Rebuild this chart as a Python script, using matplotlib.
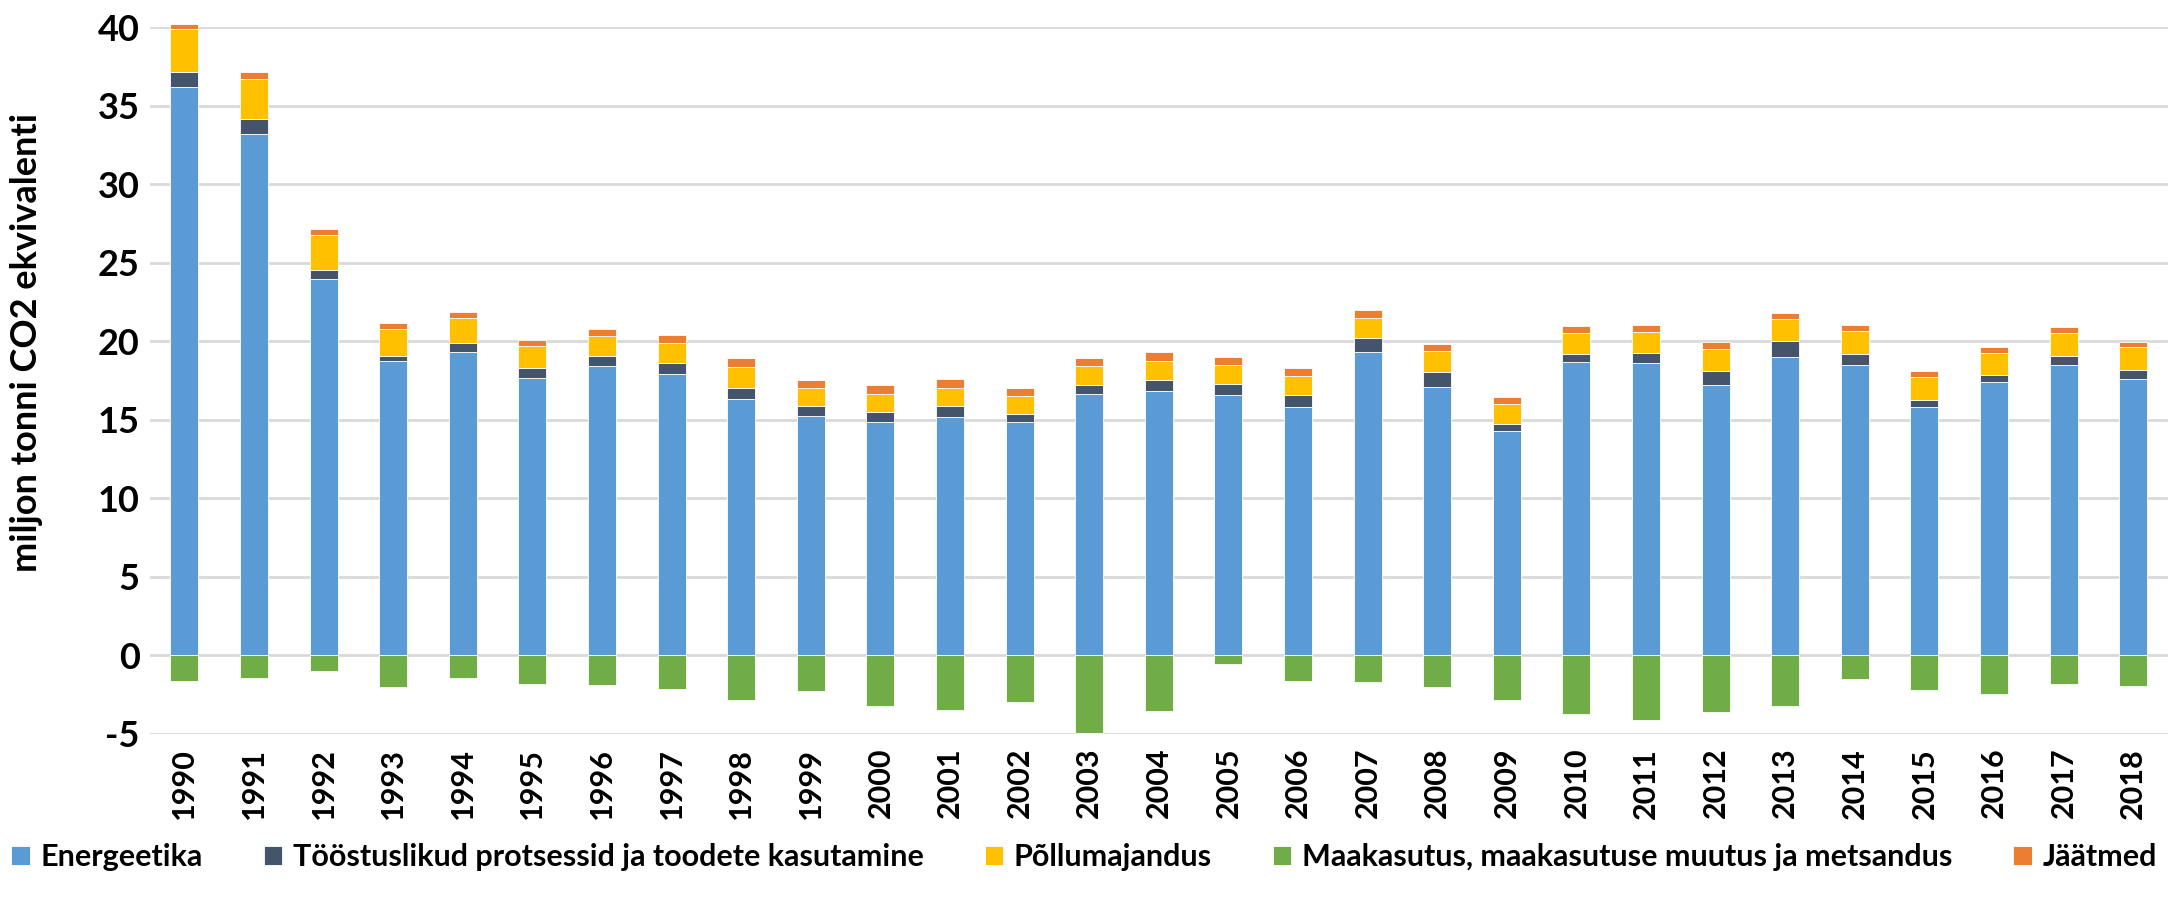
import numpy as np
import matplotlib
matplotlib.use('Agg')
import matplotlib.pyplot as plt

years = [str(y) for y in range(1990, 2019)]

energeetika = [36.20, 33.21, 23.97, 18.73, 19.32, 17.66, 18.43, 17.92, 16.33, 15.22,
               14.84, 15.18, 14.86, 16.67, 16.84, 16.58, 15.84, 19.30, 17.11, 14.29,
               18.70, 18.62, 17.22, 19.02, 18.51, 15.80, 17.39, 18.49, 17.58]
toostus = [0.95, 0.93, 0.57, 0.34, 0.60, 0.64, 0.64, 0.68, 0.72, 0.68,
           0.68, 0.70, 0.53, 0.57, 0.72, 0.72, 0.72, 0.93, 0.96, 0.44,
           0.51, 0.66, 0.91, 0.98, 0.68, 0.48, 0.47, 0.60, 0.59]
pollumajandus = [2.72, 2.59, 2.21, 1.72, 1.55, 1.40, 1.29, 1.32, 1.34, 1.15,
                 1.15, 1.15, 1.13, 1.17, 1.19, 1.17, 1.23, 1.28, 1.31, 1.28,
                 1.32, 1.29, 1.38, 1.42, 1.47, 1.45, 1.42, 1.46, 1.45]
maakasutus = [-1.60, -1.45, -0.96, -1.99, -1.45, -1.79, -1.86, -2.15, -2.85, -2.28,
              -3.19, -3.47, -2.98, -4.91, -3.57, -0.55, -1.64, -1.66, -2.02, -2.81,
              -3.72, -4.09, -3.62, -3.19, -1.53, -2.21, -2.43, -1.83, -1.96]
jaatmed = [0.36, 0.40, 0.38, 0.38, 0.40, 0.38, 0.43, 0.50, 0.53, 0.51,
           0.57, 0.57, 0.53, 0.53, 0.57, 0.53, 0.49, 0.49, 0.47, 0.47,
           0.47, 0.47, 0.43, 0.38, 0.38, 0.38, 0.34, 0.34, 0.34]

plt.rcParams['font.family'] = ['Lato', 'DejaVu Sans']
plt.rcParams['axes.unicode_minus'] = False

fig = plt.figure(figsize=(21.68, 9.14), dpi=100)
ax = fig.add_axes([0.069, 0.197, 0.931, 0.773])

x = np.arange(len(years))
w = 0.4
e = np.array(energeetika)
t = np.array(toostus)
p = np.array(pollumajandus)
edge = dict(edgecolor='white', linewidth=0.6, clip_on=False)

b1 = ax.bar(x, e, w, color='#5B9BD5', label='Energeetika', **edge)
b2 = ax.bar(x, t, w, bottom=e, color='#44546A',
            label='Tööstuslikud protsessid ja toodete kasutamine', **edge)
b3 = ax.bar(x, p, w, bottom=e + t, color='#FFC000', label='Põllumajandus', **edge)
b4 = ax.bar(x, maakasutus, w, color='#70AD47',
            label='Maakasutus, maakasutuse muutus ja metsandus', **edge)
b5 = ax.bar(x, jaatmed, w, bottom=e + t + p, color='#ED7D31', label='Jäätmed', **edge)

ax.set_ylim(-5, 40)
ax.set_xlim(-0.5, len(years) - 0.5)
ax.set_yticks(range(-5, 41, 5))
ax.yaxis.grid(True, color='#D9D9D9', linewidth=2)
ax.set_axisbelow(True)
for s in ax.spines.values():
    s.set_visible(False)
ax.tick_params(length=0)
ax.tick_params(axis='y', labelsize=26, pad=7)
ax.set_xticks(x)
ax.set_xticklabels(years, rotation=90, fontsize=22, fontweight='bold')
for lab in ax.get_yticklabels():
    lab.set_fontweight('bold')
ax.tick_params(axis='x', pad=10)
fig.text(0.012, 0.625, 'miljon tonni CO2 ekvivalenti', rotation=90, fontsize=26,
         fontweight='bold', ha='center', va='center')

fig.legend(handles=[b1, b2, b3, b4, b5], loc='center', bbox_to_anchor=(0.5, 0.062),
           ncol=5, frameon=False, prop={'weight': 'bold', 'size': 22},
           handlelength=0.6, handleheight=0.6, handletextpad=0.35, columnspacing=2.0)

fig.savefig('out.png', dpi=100)
